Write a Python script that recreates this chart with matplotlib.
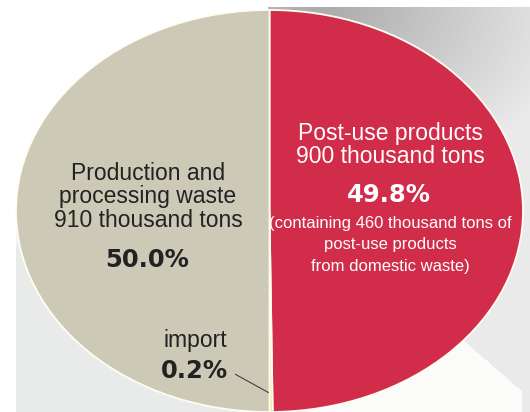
import numpy as np
import matplotlib
matplotlib.use("Agg")
import matplotlib.pyplot as plt

# Composition of the collected waste (share of the total)
labels = ["Post-use products", "import", "Production and processing waste"]
shares = [49.8, 0.2, 50.0]
tonnage = {"Post-use products": "900 thousand tons",
           "Production and processing waste": "910 thousand tons"}
colors = ["#d22c4b", "#efe29a", "#ccc9b7"]

W, H = 530, 412
fig = plt.figure(figsize=(W / 100, H / 100), dpi=100)

# --- page background with soft shading -------------------------------------
yy, xx = np.mgrid[0:H, 0:W].astype(float)
bg = np.ones((H, W, 3))
# light grey sheet at the lower left
lower = np.clip((yy - 225) / 25.0, 0, 1)[..., None]
sheet = np.array([0.915, 0.925, 0.918])
left_part = (xx >= 16)[..., None]
bg = np.where(left_part, bg * (1 - lower) + sheet * lower, bg)
# grey gradient at the upper right
dist = np.hypot((xx - 320) * 0.9, (yy - 0) * 1.2)
shade = np.clip(0.66 + 0.27 * dist / 240.0, 0.66, 0.92)
right_part = ((xx >= 268) & (yy >= 7))
for c in range(3):
    bg[..., c] = np.where(right_part, shade, bg[..., c])
# white paper corner at the lower right
corner = (xx > 300) & (xx < 522) & (((xx < 463) & (yy > 330)) |
                                    (yy > 340 + (xx - 463) * 52 / 60.0))
bg[corner] = [0.985, 0.985, 0.98]
bg[yy < 7] = 1.0

bax = fig.add_axes([0, 0, 1, 1])
bax.imshow(bg, extent=(0, W, H, 0), aspect="auto", interpolation="bilinear")
bax.set_xlim(0, W)
bax.set_ylim(H, 0)
bax.axis("off")

# --- elliptical pie ---------------------------------------------------------
cx, cy, a, b = 269.5, 211.0, 253.5, 201.0   # centre and semi-axes in pixels
ax = fig.add_axes([0, 0, 1, 1])
ax.patch.set_alpha(0)
wedges, _ = ax.pie(shares, colors=colors, startangle=90, counterclock=False,
                   radius=1.0, center=(0, 0),
                   wedgeprops=dict(edgecolor="#fffdf0", linewidth=1.3))
ax.set_aspect("auto")
ax.set_xlim((0 - cx) / a, (W - cx) / a)
ax.set_ylim((cy - H) / b, (cy - 0) / b)
ax.axis("off")


def fx(px):
    return px / W


def fy(py):
    return 1 - py / H


reg = dict(family=["Liberation Sans", "DejaVu Sans"], ha="center", va="center")
bold = dict(family=["DejaVu Sans"], weight="bold", ha="center", va="center")

# left slice
fig.text(fx(148), fy(197),
         "Production and\nprocessing waste\n" + tonnage[labels[2]],
         fontsize=16.5, color="#222222", linespacing=1.04, **reg)
fig.text(fx(147), fy(260), f"{shares[2]:.1f}%", fontsize=17.5,
         color="#222222", **bold)

# right slice
fig.text(fx(390), fy(145), labels[0] + "\n" + tonnage[labels[0]],
         fontsize=16.5, color="white", linespacing=1.05, **reg)
fig.text(fx(389), fy(195), f"{shares[0]:.1f}%", fontsize=17.5,
         color="white", **bold)
fig.text(fx(390), fy(245),
         "(containing 460 thousand tons of\npost-use products\nfrom domestic waste)",
         fontsize=12, color="white", linespacing=1.5, **reg)

# import callout
fig.text(fx(195), fy(340), labels[1], fontsize=16.5, color="#222222", **reg)
fig.text(fx(194), fy(371), f"{shares[1]:.1f}%", fontsize=17.5,
         color="#222222", **bold)

theta = np.deg2rad(90 - 360 * (shares[0] + shares[1] / 2) / 100)
tip = (0.91 * np.cos(theta), 0.91 * np.sin(theta))
start = ((233 - cx) / a, (cy - 373) / b)
ax.annotate("", xy=tip, xytext=start,
            arrowprops=dict(arrowstyle="-", color="#444444", lw=0.8))

fig.savefig("out.png", dpi=100)
